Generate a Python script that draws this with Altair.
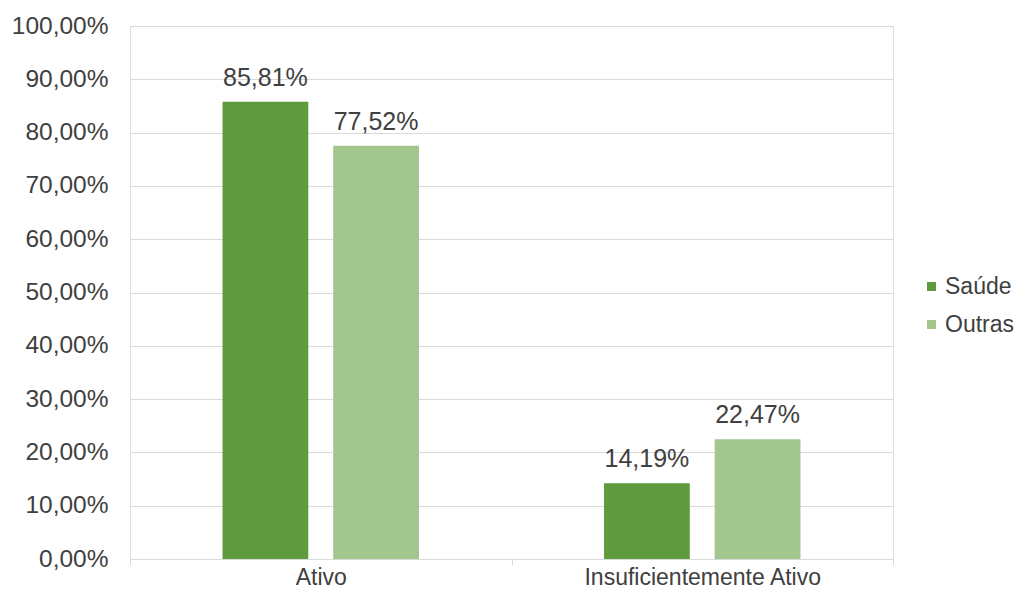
import altair as alt
import pandas as pd

categories = ["Ativo", "Insuficientemente Ativo"]
groups = ["Saúde", "Outras"]
saude = [85.81, 14.19]
outras = [77.52, 22.47]
colors = ["#5f9b3e", "#a2c68e"]
y_ticks = [0, 10, 20, 30, 40, 50, 60, 70, 80, 90, 100]

rows = []
for i, c in enumerate(categories):
    for g, vals in zip(groups, [saude, outras]):
        v = vals[i]
        rows.append({"cat": c, "grupo": g, "valor": v,
                     "rotulo": f"{v:.2f}".replace(".", ",") + "%"})
df = pd.DataFrame(rows)

FONT = "Liberation Sans"
TXT = "#404040"

x = alt.X("cat:N", sort=categories, title=None,
          scale=alt.Scale(paddingInner=0, paddingOuter=0),
          axis=alt.Axis(labelAngle=0, labelFont=FONT, labelFontSize=23, labelColor=TXT,
                        labelPadding=1, labelLimit=0, domainColor="#d9d9d9", tickColor="#d9d9d9",
                        tickSize=6, tickBand="extent", grid=False))
xo = alt.XOffset("grupo:N", sort=groups,
                 scale=alt.Scale(paddingInner=0.225, paddingOuter=0.836))
y = alt.Y("valor:Q", title=None,
          scale=alt.Scale(domain=[0, 100], nice=False),
          axis=alt.Axis(values=y_ticks, labelExpr="replace(format(datum.value, '.2f'), '.', ',') + '%'",
                        labelFont=FONT, labelFontSize=24.5, labelColor=TXT, labelPadding=22,
                        domain=False, ticks=False, gridColor="#d9d9d9", gridWidth=1))

bars = alt.Chart(df).mark_bar().encode(
    x=x, xOffset=xo, y=y,
    color=alt.Color("grupo:N", sort=groups, title=None,
                    scale=alt.Scale(domain=groups, range=colors),
                    legend=alt.Legend(orient="none", legendX=790, legendY=249,
                                      symbolType="square", symbolSize=81,
                                      symbolStrokeWidth=0, labelFont=FONT, labelFontSize=23,
                                      labelColor=TXT, labelOffset=2, rowPadding=14,
                                      labelLimit=0)),
)

labels = alt.Chart(df).mark_text(baseline="bottom", dy=-11, font=FONT, fontSize=25, color=TXT).encode(
    x=x, xOffset=xo, y=y, text="rotulo:N"
)

chart = alt.layer(bars, labels).properties(
    width=763, height=533,
    autosize=alt.AutoSizeParams(type="none"),
    padding={"left": 122, "top": 18, "right": 125, "bottom": 30},
).configure_view(stroke=None).configure(background="white")

chart.save("out.html", embed_options={"renderer": "svg", "actions": False})
